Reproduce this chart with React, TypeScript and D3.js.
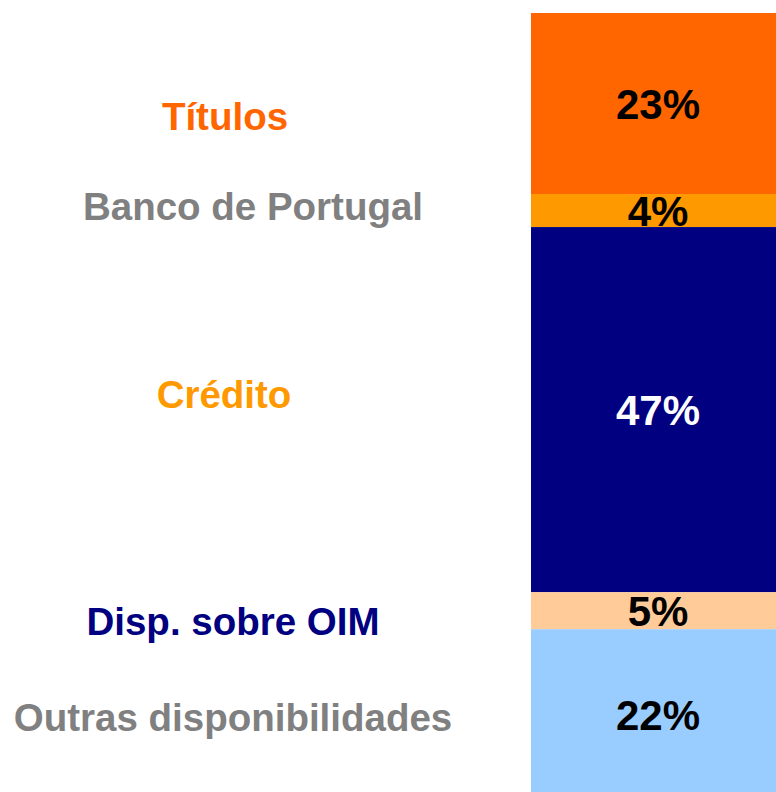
import React, { useEffect, useRef } from 'react';
import * as d3 from 'd3';

// composition of the asset side (shares, %)
const categories = ['Títulos', 'Banco de Portugal', 'Crédito', 'Disp. sobre OIM', 'Outras disponibilidades'];
const shares = [23.0, 4.2, 46.4, 4.7, 21.7];
const shareLabels = ['23%', '4%', '47%', '5%', '22%'];

// styling
const segmentColors = ['#FF6600', '#FF9900', '#000080', '#FFCC99', '#99CCFF'];
const valueColors = ['#000000', '#000000', '#FFFFFF', '#000000', '#000000'];
const labelColors = ['#FF6600', '#808080', '#FF9900', '#000080', '#808080'];
// small hand nudges of the left-hand labels (px), relative to segment middle
const labelDx = [-10, 18, -11, -2, -2];
const labelDy = [13, -4, -15, 10, 3];

export default function App() {
  const ref = useRef<SVGSVGElement>(null);

  useEffect(() => {
    const width = 776;
    const height = 792;
    const svg = d3.select(ref.current);
    svg.selectAll('*').remove();
    svg.attr('width', width).attr('height', height);

    const font = '"Liberation Sans", Arial, Helvetica, sans-serif';

    const y = d3.scaleLinear().domain([0, 100]).range([13, 800]);
    const x = d3.scaleBand().domain(['total']).range([531, 785]).padding(0);

    const stacked = shares.map((v, i) => {
      const start = d3.sum(shares.slice(0, i));
      return { i, y0: start, y1: start + v };
    });

    const g = svg.append('g');

    g.selectAll('rect.seg')
      .data(stacked)
      .enter()
      .append('rect')
      .attr('class', 'seg')
      .attr('x', x('total')!)
      .attr('width', x.bandwidth())
      .attr('y', d => y(d.y0))
      .attr('height', d => y(d.y1) - y(d.y0))
      .attr('fill', d => segmentColors[d.i]);

    const valueSize = 42;
    g.selectAll('text.val')
      .data(stacked)
      .enter()
      .append('text')
      .attr('class', 'val')
      .attr('x', x('total')! + x.bandwidth() / 2)
      .attr('y', d => (y(d.y0) + y(d.y1)) / 2 + valueSize * 0.358)
      .attr('text-anchor', 'middle')
      .style('font-family', font)
      .style('font-weight', 'bold')
      .style('font-size', valueSize + 'px')
      .attr('fill', d => valueColors[d.i])
      .text(d => shareLabels[d.i]);

    const labelSize = 38.5;
    g.selectAll('text.cat')
      .data(stacked)
      .enter()
      .append('text')
      .attr('class', 'cat')
      .attr('x', d => 235 + labelDx[d.i])
      .attr('y', d => (y(d.y0) + y(d.y1)) / 2 + labelSize * 0.358 + labelDy[d.i])
      .attr('text-anchor', 'middle')
      .style('font-family', font)
      .style('font-weight', 'bold')
      .style('font-size', labelSize + 'px')
      .attr('fill', d => labelColors[d.i])
      .text(d => categories[d.i]);
  }, []);

  return (
    <div style={{ position: 'absolute', left: 0, top: 0, width: 776, height: 792, overflow: 'hidden', background: '#fff' }}>
      <svg ref={ref} style={{ display: 'block' }} />
    </div>
  );
}
